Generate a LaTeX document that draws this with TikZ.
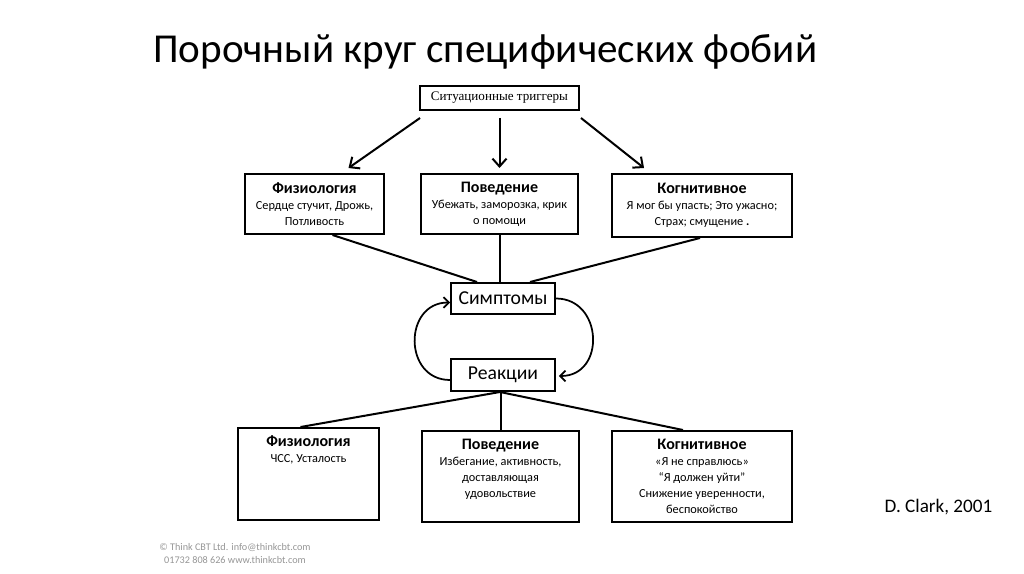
\documentclass[tikz,border=0pt]{standalone}
\usepackage{fontspec}
\setmainfont{Carlito}
\newfontfamily\serifcap{Liberation Serif}
\usetikzlibrary{arrows.meta,calc}
\definecolor{footgray}{RGB}{150,150,150}

\tikzset{
  box/.style={draw, line width=0.04cm, inner sep=0pt, align=center,
    font=\fontsize{7}{9.2}\selectfont},
  arr/.style={line width=0.04cm, -{Straight Barb[length=4.5pt,width=8pt]}},
  cyc/.style={line width=0.035cm, -{Straight Barb[length=3pt,width=6pt]}},
  link/.style={line width=0.04cm},
}
\newcommand{\hd}[1]{{\fontsize{9.1}{10}\selectfont\bfseries #1}}
\newcommand{\toptext}[3]{\parbox[c][#1][t]{#2}{\centering\vspace*{4.5pt}#3}}

\begin{document}
\begin{tikzpicture}[x=0.02cm,y=-0.02cm]
            \useasboundingbox (0,0) rectangle (1024,574);

            % Title
            \node [anchor=base west, font=\fontsize{23.4}{27}\selectfont] (title) at (147,63) {Порочный круг специфических фобий};%

            % Trigger box
            \node [box, minimum width=3.18cm, minimum height=0.48cm, font=\serifcap\fontsize{7.45}{9}\selectfont] (sit) at (499.5,98) {Ситуационные триггеры};%

            % Upper row of boxes
            \node [box, minimum width=2.78cm, minimum height=1.2cm] (fizA) at (314.5,204) {\hd{Физиология}\\ Сердце стучит, Дрожь,\\ Потливость};%
            \node [box, minimum width=3.14cm, minimum height=1.2cm] (povA) at (499.5,204) {\hd{Поведение}\\ Убежать, заморозка, крик\\ о помощи};%
            \node [box, minimum width=3.6cm, minimum height=1.26cm] (kogA) at (702,205.5) {\hd{Когнитивное}\\ Я мог бы упасть; Это ужасно;\\ Страх; смущение \textbf{.}};%

            % Middle cycle
            \node [box, minimum width=2.08cm, minimum height=0.62cm, font=\fontsize{11.2}{13}\selectfont] (simp) at (503,298.5) {Симптомы};%
            \node [box, minimum width=2.08cm, minimum height=0.64cm, font=\fontsize{11.2}{13}\selectfont] (reak) at (503,375) {Реакции};%

            % Lower row of boxes
            \node [box] (fizB) at (308.5,474) {\toptext{1.84cm}{2.82cm}{\hd{Физиология}\\ ЧСС, Усталость}};%
            \node [box] (povB) at (500.5,476.5) {\toptext{1.82cm}{3.14cm}{\hd{Поведение}\\ Избегание, активность,\\ доставляющая\\ удовольствие}};%
            \node [box] (kogB) at (702,476.5) {\toptext{1.82cm}{3.6cm}{\hd{Когнитивное}\\ «Я не справлюсь»\\ “Я должен уйти”\\ Снижение уверенности,\\ беспокойство}};%

            % Author and footer
            \node [font=\fontsize{10.9}{12}\selectfont] (clark) at (938.5,507) {D. Clark, 2001};%
            \node [align=center, text=footgray, font=\fontsize{5.8}{7.4}\selectfont] (foot) at (235,553.5) {© Think CBT Ltd. info@thinkcbt.com\\ 01732 808 626 www.thinkcbt.com};%

            % Drawing arrows from triggers
            \draw [arr] ($(sit.south west)+(1,7)$) -- ($(fizA.north)+(34,-5)$);%
            \draw [arr] ($(sit.south)+(0,7)$) -- ($(povA.north)+(0,-5)$);%
            \draw [arr] ($(sit.south east)+(1,7)$) -- ($(kogA.north west)+(33,-5)$);%

            % Drawing segments to symptoms
            \draw [link] ($(fizA.south)+(18,0)$) -- ($(simp.north)+(-26,0)$);%
            \draw [link] (povA.south) -- (povA.south |- simp.north);%
            \draw [link] ($(kogA.south)+(-2,0)$) -- ($(simp.north)+(27,0)$);%

            % Drawing the cycle
            \draw [cyc] ($(reak.west)+(0,5)$) to [out=180, in=180, looseness=1.55] ($(simp.west)+(0,4)$);%
            \draw [cyc] (simp.east) to [out=0, in=0, looseness=1.55] ($(reak.east)+(3,1)$);%

            % Drawing segments from reactions
            \draw [link] ($(reak.south)+(-3,0)$) -- ($(fizB.north)+(-8,0)$);%
            \draw [link] (povB.north |- reak.south) -- (povB.north);%
            \draw [link] ($(reak.south)+(-3,0)$) -- ($(kogB.north)+(-19,0)$);%
\end{tikzpicture}
\end{document}
